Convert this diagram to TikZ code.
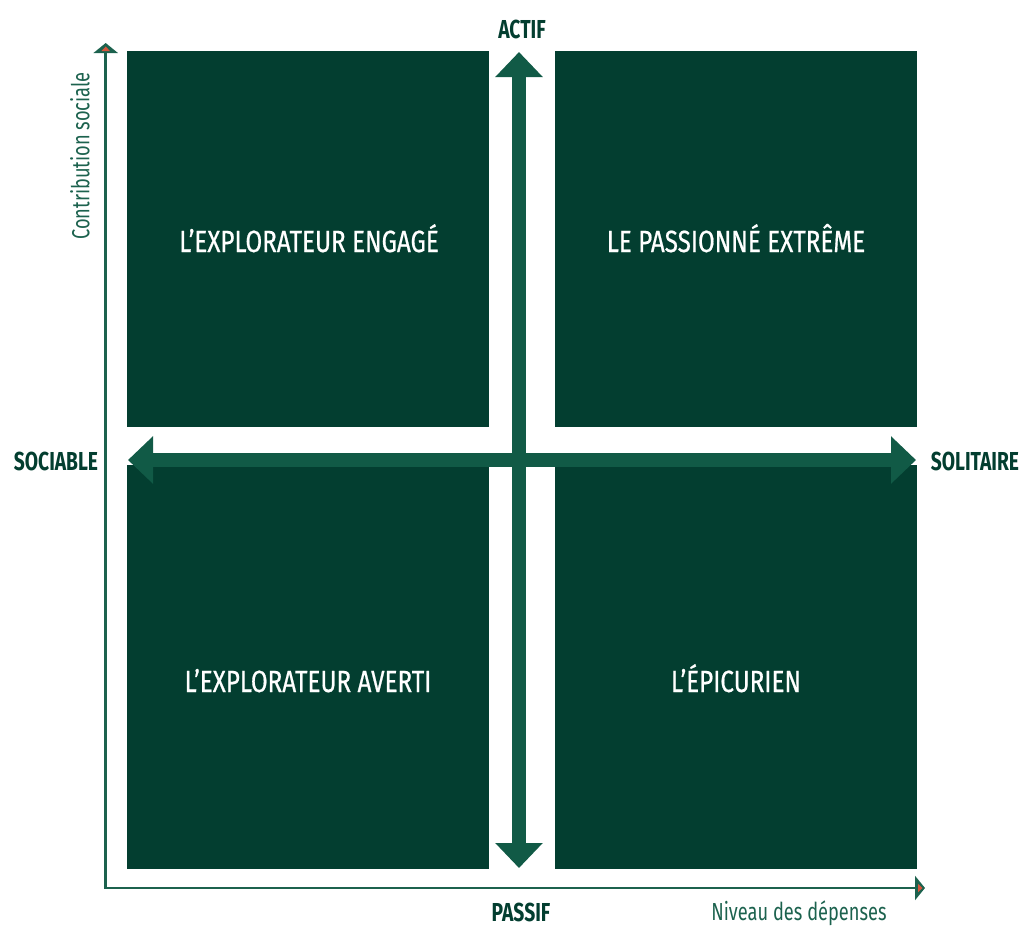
\documentclass[tikz,border=0pt]{standalone}
\usepackage{fontspec}
\setmainfont{Fira Sans}
\newfontfamily\cond[FakeStretch=0.74]{Fira Sans}
\newfontfamily\condq[FakeStretch=0.79,FakeBold=0.6]{Fira Sans}
\usetikzlibrary{arrows.meta}
\definecolor{boxgreen}{RGB}{3,62,48}
\definecolor{arrowgreen}{RGB}{17,90,70}
\definecolor{axisgreen}{RGB}{28,98,78}
\definecolor{tipred}{RGB}{215,85,60}
\tikzset{
  quadlabel/.style={text=white, font=\condq\fontsize{23}{27}\selectfont, inner sep=0pt, anchor=base},
  axislabel/.style={text=boxgreen, font=\cond\bfseries\fontsize{19.5}{23}\selectfont, inner sep=0pt},
  axisname/.style={text=axisgreen, font=\cond\fontsize{18.5}{22}\selectfont, inner sep=0pt},
  bigarrow/.style={draw=arrowgreen, line width=14.5*0.75pt,
     {Triangle[width=46*0.75pt,length=25*0.75pt]}-{Triangle[width=46*0.75pt,length=25*0.75pt]}},
  axisline/.style={draw=axisgreen, line width=2.6*0.75pt,
     -{Triangle[width=24*0.75pt,length=10*0.75pt]}},
  redtip/.style={fill=tipred, draw=none}
}
\begin{document}
\begin{tikzpicture}[x=0.75pt,y=-0.75pt]
\useasboundingbox (0,0) rectangle (1022,926);
% quadrants
\fill[boxgreen] (127,51) rectangle (489,427);
\fill[boxgreen] (555,51) rectangle (917,427);
\fill[boxgreen] (127,465) rectangle (489,869);
\fill[boxgreen] (555,465) rectangle (917,869);
\node[quadlabel] (q1) at (309,252) {L’EXPLORATEUR ENGAGÉ};
\node[quadlabel] (q2) at (736,252) {LE PASSIONNÉ EXTRÊME};
\node[quadlabel] (q3) at (308,692) {L’EXPLORATEUR AVERTI};
\node[quadlabel] (q4) at (736,692) {L’ÉPICURIEN};
% big arrows
\coordinate (vtop) at (519,52);
\coordinate (vbot) at (519,868);
\coordinate (hleft) at (128,460);
\coordinate (hright) at (916,460);
\draw[bigarrow] (vbot) -- (vtop);
\draw[bigarrow] (hleft) -- (hright);
% axis labels
\node[axislabel] (actif) at (522,29) {ACTIF};
\node[axislabel] (passif) at (521,912) {PASSIF};
\node[axislabel] (sociable) at (56,461) {SOCIABLE};
\node[axislabel] (solitaire) at (975,461) {SOLITAIRE};
% coordinate axes
\coordinate (origin) at (105.7,888);
\coordinate (ytip) at (105.7,43);
\coordinate (xtip) at (925,888);
\draw[axisline] (origin) -- (ytip);
\draw[axisline] ([xshift=-1.3*0.75pt]origin) -- (xtip);
\fill[redtip] (105.7,46.5) -- (101.5,51) -- (109.9,51) -- cycle;
\fill[redtip] (922.5,888) -- (918,883.8) -- (918,892.2) -- cycle;
\node[axisname, rotate=90] (ylab) at (80,156) {Contribution sociale};
\node[axisname] (xlab) at (799,913) {Niveau des dépenses};
\end{tikzpicture}
\end{document}
